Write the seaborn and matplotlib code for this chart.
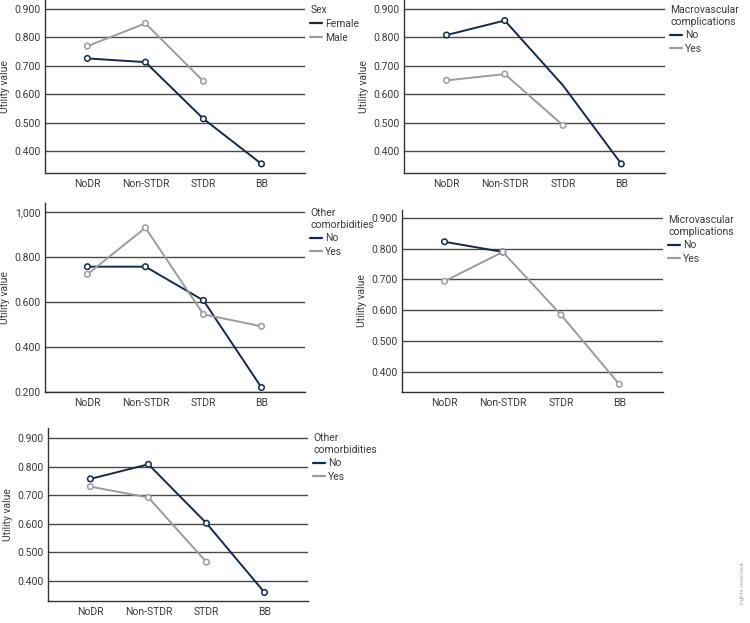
import matplotlib
matplotlib.use("Agg")
import matplotlib.pyplot as plt
import numpy as np
import pandas as pd
import seaborn as sns

stages = ["NoDR", "Non-STDR", "STDR", "BB"]

# panel 1: sex
sex_levels = ["Female", "Male"]
sex_female = [0.725, 0.712, 0.513, 0.355]
sex_male = [0.768, 0.848, 0.645, np.nan]

# panel 2: macrovascular complications
macro_levels = ["No", "Yes"]
macro_no = [0.807, 0.858, 0.630, 0.355]
macro_yes = [0.648, 0.670, 0.490, np.nan]
macro_no_marked = [True, True, False, True]

# panel 3: other comorbidities
como_levels = ["No", "Yes"]
como_no = [0.757, 0.757, 0.607, 0.220]
como_yes = [0.723, 0.930, 0.545, 0.492]

# panel 4: microvascular complications
micro_levels = ["No", "Yes"]
micro_no = [0.822, 0.789, np.nan, np.nan]
micro_yes = [0.694, 0.789, 0.585, 0.360]

# panel 5: other comorbidities
como2_no = [0.757, 0.808, 0.602, 0.360]
como2_yes = [0.730, 0.692, 0.466, np.nan]

sns.set_style("white")
plt.rcParams["font.family"] = ["Roboto", "DejaVu Sans"]

DARK = "#15294a"
GRAY = "#9c9c9c"
GRID = "#4a4a4a"
TXT = "#3a3a3a"
FS = 7.5


def make_df(levels, a, b, marked_a=None):
    rows = []
    for lev, vals, marks in [(levels[0], a, marked_a), (levels[1], b, None)]:
        for i, (s, v) in enumerate(zip(stages, vals)):
            m = True if marks is None else marks[i]
            rows.append({"stage": s, "value": v, "group": lev, "marked": m})
    df = pd.DataFrame(rows)
    return df.dropna(subset=["value"])


panels = [
    # data, title, rect (px), ylim, yticks, ticklabels
    (make_df(sex_levels, sex_female, sex_male), "Sex",
     [45, 0, 260, 173], (0.323, 0.93), [0.4, 0.5, 0.6, 0.7, 0.8, 0.9], None),
    (make_df(macro_levels, macro_no, macro_yes, macro_no_marked), "Macrovascular\ncomplications",
     [404, 0, 261, 173], (0.323, 0.93), [0.4, 0.5, 0.6, 0.7, 0.8, 0.9], None),
    (make_df(como_levels, como_no, como_yes), "Other\ncomorbidities",
     [45, 203, 260, 189], (0.2, 1.04), [0.2, 0.4, 0.6, 0.8, 1.0],
     ["0.200", "0.400", "0.600", "0.800", "1,000"]),
    (make_df(micro_levels, micro_no, micro_yes), "Microvascular\ncomplications",
     [402, 210, 261, 182], (0.335, 0.925), [0.4, 0.5, 0.6, 0.7, 0.8, 0.9], None),
    (make_df(como_levels, como2_no, como2_yes), "Other\ncomorbidities",
     [48, 428, 260, 173], (0.33, 0.935), [0.4, 0.5, 0.6, 0.7, 0.8, 0.9], None),
]

W, H = 750, 623
fig = plt.figure(figsize=(7.5, 6.23), dpi=100)

for i, (df, title, rect, ylim, yticks, ylabels) in enumerate(panels):
    x0, y0, w, h = rect
    ax = fig.add_axes([x0 / W, 1 - (y0 + h) / H, w / W, h / H])
    levels = list(df["group"].unique())
    pal = {levels[0]: DARK, levels[1]: GRAY}
    df = df.copy()
    df["pos"] = df["stage"].map({s: k for k, s in enumerate(stages)})

    for yv in yticks:
        ax.axhline(yv, color=GRID, lw=1.0, zorder=0)

    sns.lineplot(data=df, x="pos", y="value", hue="group", palette=pal,
                 hue_order=levels, lw=1.4, ax=ax, legend=False, sort=False,
                 estimator=None)
    sns.scatterplot(data=df[df["marked"]], x="pos", y="value", hue="group",
                    palette=pal, hue_order=levels, marker="o", s=16,
                    linewidth=1.1, ax=ax, legend=False, zorder=5)
    # hollow markers with coloured edges
    for coll in ax.collections:
        coll.set_edgecolors(coll.get_facecolors())
        coll.set_facecolors("white")

    ax.set_xlim(-0.73, 3.75)
    ax.set_ylim(*ylim)
    ax.set_xticks(range(len(stages)))
    ax.set_xticklabels(stages)
    ax.set_yticks(yticks)
    ax.set_yticklabels(ylabels if ylabels else [f"{v:.3f}" for v in yticks])
    ax.tick_params(axis="both", length=0, labelsize=FS, colors=TXT, pad=3)
    ax.tick_params(axis="x", pad=4)
    ax.set_xlabel("")
    ax.set_ylabel("Utility value", fontsize=FS, color=TXT, labelpad=3)
    for side in ["top", "right"]:
        ax.spines[side].set_visible(False)
    for side in ["left", "bottom"]:
        ax.spines[side].set_color("#333333")
        ax.spines[side].set_linewidth(1.0)

    handles = [plt.Line2D([], [], color=pal[l], lw=1.6) for l in levels]
    leg = ax.legend(handles, levels, title=title, loc="upper left",
                    bbox_to_anchor=(1.0, 1.0), frameon=False,
                    fontsize=FS, title_fontsize=FS, handlelength=1.1,
                    handletextpad=0.3, borderaxespad=0.2, labelspacing=0.35,
                    borderpad=0.3)
    leg._legend_box.align = "left"
    leg.get_title().set_color(TXT)
    for t in leg.get_texts():
        t.set_color(TXT)

fig.text(0.99, 0.03, "rights reserved.", rotation=90, fontsize=4.5,
         color="#aaaaaa", ha="center", va="bottom")

fig.savefig("out.png", dpi=100)
